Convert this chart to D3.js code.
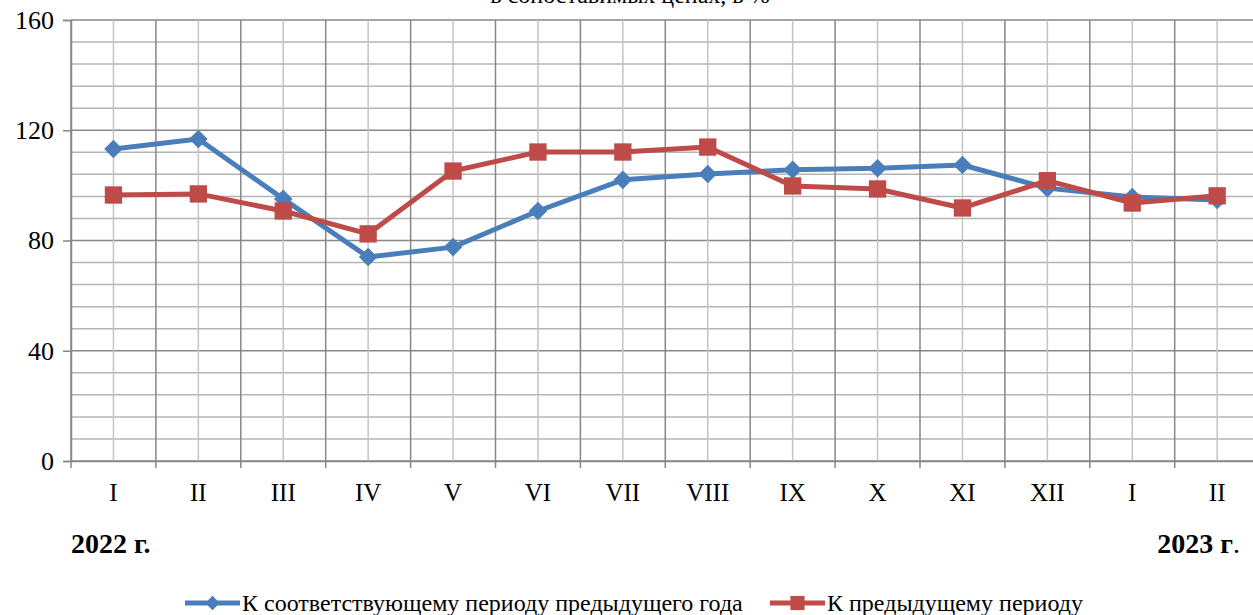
<!DOCTYPE html>
<html>
<head>
<meta charset="utf-8">
<script src="https://cdn.jsdelivr.net/npm/d3@7"></script>
<style>
  body { margin: 0; background: #fff; }
  svg { display: block; }
</style>
</head>
<body>
<div class="root"></div>
<script>
var months = ["I", "II", "III", "IV", "V", "VI", "VII", "VIII", "IX", "X", "XI", "XII", "I ", "II "];
var yoy = [113.2, 116.8, 95.1, 74.0, 77.6, 90.7, 102.0, 104.1, 105.7, 106.2, 107.4, 99.0, 95.8, 94.7];
var mom = [96.5, 96.9, 90.7, 82.4, 105.2, 112.1, 112.1, 113.9, 99.8, 98.7, 91.8, 101.7, 93.6, 96.2];
var yTicks = [0, 40, 80, 120, 160];
var seriesNames = ["К соответствующему периоду предыдущего года", "К предыдущему периоду"];
var colors = ["#4a7ebb", "#be4b48"];

var serif = "'Times New Roman', 'Liberation Serif', 'DejaVu Serif', serif";

var width = 1253, height = 615,
    mLeft = 71, mTop = 20, mBottom = 461,
    band = 84.9;

var svg = d3.select(".root")
  .append("svg")
  .attr("width", width)
  .attr("height", height)
  .attr("font-family", serif);

var x = d3.scaleBand()
  .domain(months)
  .range([mLeft, mLeft + band * months.length]);

var y = d3.scaleLinear()
  .domain([0, 160])
  .range([mBottom, mTop]);

// title, mostly cut off at the top edge
svg.append("text")
  .attr("x", 630).attr("y", 3)
  .attr("text-anchor", "middle")
  .style("font-family", serif)
  .style("font-size", "24px")
  .text("в сопоставимых ценах, в %");

var grid = svg.append("g");

// horizontal grid, minor every 8
grid.selectAll("line.hmin")
  .data(d3.range(0, 161, 8))
  .enter().append("line")
  .attr("x1", mLeft).attr("x2", width)
  .attr("y1", d => y(d)).attr("y2", d => y(d))
  .attr("stroke", d => d % 40 === 0 ? "#878787" : "#b4b4b4")
  .attr("stroke-width", 1.5);

// vertical minor lines at category centres
grid.selectAll("line.vmin")
  .data(months)
  .enter().append("line")
  .attr("x1", d => x(d) + band / 2).attr("x2", d => x(d) + band / 2)
  .attr("y1", mTop).attr("y2", mBottom)
  .attr("stroke", "#c4c4c4")
  .attr("stroke-width", 1.5);

// vertical major lines at band edges
grid.selectAll("line.vmaj")
  .data(months)
  .enter().append("line")
  .attr("x1", d => x(d)).attr("x2", d => x(d))
  .attr("y1", mTop).attr("y2", mBottom + 7)
  .attr("stroke", "#878787")
  .attr("stroke-width", 1.5);

// y axis ticks and labels
var yAxis = svg.append("g")
  .attr("transform", "translate(" + mLeft + ",0)")
  .call(d3.axisLeft(y).tickValues(yTicks).tickSize(8).tickPadding(9))
  .attr("font-family", serif);
yAxis.select(".domain").attr("stroke", "#878787").attr("stroke-width", 1.5);
yAxis.selectAll(".tick line").attr("stroke", "#878787").attr("stroke-width", 1.5);
yAxis.selectAll(".tick text")
  .attr("fill", "#000")
  .style("font-family", serif)
  .style("font-size", "26px");

// x axis labels
var xAxis = svg.append("g")
  .attr("transform", "translate(0," + mBottom + ")")
  .call(d3.axisBottom(x).tickSize(0).tickPadding(22))
  .attr("font-family", serif);
xAxis.select(".domain").attr("stroke", "#878787").attr("stroke-width", 1.5);
xAxis.selectAll(".tick text")
  .attr("fill", "#000")
  .style("font-family", serif)
  .style("font-size", "25px")
  .text(d => d.trim());

// year labels
svg.append("text")
  .attr("x", 71).attr("y", 553)
  .style("font-family", serif)
  .style("font-size", "28px").style("font-weight", "bold")
  .text("2022 г.");
var y23 = svg.append("text")
  .attr("x", 1240).attr("y", 553)
  .attr("text-anchor", "end")
  .style("font-family", serif)
  .style("font-size", "28px");
y23.append("tspan").style("font-weight", "bold").text("2023 г");
y23.append("tspan").text(".");

var line = d3.line()
  .x((d, i) => x(months[i]) + band / 2)
  .y(d => y(d));

var diamond = d3.symbol().type(d3.symbolDiamond2).size(220);
var square = d3.symbol().type(d3.symbolSquare).size(300);

function drawSeries(data, color, sym) {
  var g = svg.append("g");
  g.append("path")
    .datum(data)
    .attr("d", line)
    .attr("fill", "none")
    .attr("stroke", color)
    .attr("stroke-width", 5)
    .attr("stroke-linejoin", "round");
  g.selectAll("path.m")
    .data(data)
    .enter().append("path")
    .attr("class", "m")
    .attr("d", sym)
    .attr("transform", (d, i) => "translate(" + (x(months[i]) + band / 2) + "," + y(d) + ")")
    .attr("fill", color);
}

drawSeries(yoy, colors[0], diamond);
drawSeries(mom, colors[1], square);

// legend
var legend = svg.append("g").attr("transform", "translate(0,603)");
var items = [
  {name: seriesNames[0], color: colors[0], sym: d3.symbol().type(d3.symbolDiamond2).size(130), x: 185},
  {name: seriesNames[1], color: colors[1], sym: d3.symbol().type(d3.symbolSquare).size(200), x: 770}
];
items.forEach(function(it) {
  legend.append("line")
    .attr("x1", it.x).attr("x2", it.x + 55)
    .attr("stroke", it.color).attr("stroke-width", 5);
  legend.append("path")
    .attr("d", it.sym)
    .attr("transform", "translate(" + (it.x + 27.5) + ",0)")
    .attr("fill", it.color);
  legend.append("text")
    .attr("x", it.x + 57).attr("y", 8)
    .style("font-family", serif)
    .style("font-size", "24px")
    .text(it.name);
});
</script>
</body>
</html>
